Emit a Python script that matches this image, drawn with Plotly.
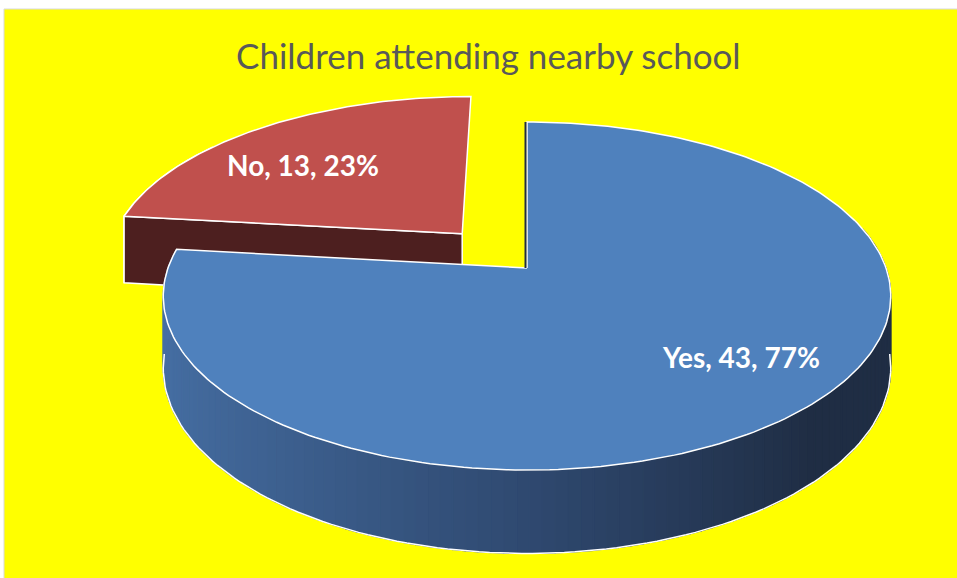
import numpy as np
import plotly.graph_objects as go

# ---- data ----
categories = ["Yes", "No"]
counts = [43, 13]
exploded = [0.0, 0.28]
top_colors = ["#4F81BD", "#C0504D"]
title_text = "Children attending nearby school"

# ---- style / geometry constants (pixel space) ----
W, H = 957, 578
CX, CY = 527.0, 268.0      # projected pie centre
A, B = 359.0, 169.5        # projected radii
K = 0.161                  # perspective factor
D = 70.0                   # extrusion depth
label_pos = {"Yes": (741, 357), "No": (303, 165)}

total = sum(counts)
pct = [c / total for c in counts]


def proj(u, v, z=0.0):
    w = 1.0 + K * v
    return CX + A * u / w, CY - B * v / w + z * D / w


def arc(a0, a1, off, n=120, z=0.0):
    t = np.radians(np.linspace(a0, a1, n))
    u = np.cos(t) + off[0]
    v = np.sin(t) + off[1]
    return proj(u, v, z)


def lerp(c0, c1, t):
    return "rgb(%d,%d,%d)" % tuple(int(round(c0[i] + (c1[i] - c0[i]) * t)) for i in range(3))


fig = go.Figure()

# slice angles: start at 12 o'clock, go clockwise (math angles decreasing)
slices = []
start = 90.0
for cat, p, ex, col in zip(categories, pct, exploded, top_colors):
    end = start - 360.0 * p
    mid = np.radians((start + end) / 2)
    off = (ex * np.cos(mid), ex * np.sin(mid))
    slices.append(dict(cat=cat, a0=start, a1=end, off=off, col=col))
    start = end


def add_poly(xs, ys, fill, line="white", lw=1.5):
    fig.add_trace(go.Scatter(x=[float(v) for v in xs], y=[float(v) for v in ys],
                             mode="lines", fill="toself",
                             fillcolor=fill, line=dict(color=line, width=lw),
                             hoverinfo="skip", showlegend=False))


# draw the exploded (No) slice first, then Yes
order = [1, 0]
for idx in order:
    s = slices[idx]
    off = s["off"]
    a0, a1 = s["a0"], s["a1"]
    if s["cat"] == "No":
        dark = "rgb(77,31,31)"
        # outer curved side (only the part near the left edge can show)
        tx, ty = arc(a0, a0 - 30, off)
        bx, by = arc(a0, a0 - 30, off, z=1.0)
        add_poly(np.r_[tx, bx[::-1], tx[:1]], np.r_[ty, by[::-1], ty[:1]], dark)
        # radial cut face at the slice's first edge (left side, faces viewer)
        cxp, cyp = proj(off[0], off[1])
        cxb, cyb = proj(off[0], off[1], 1.0)
        ex_, ey_ = arc(a0, a0, off, n=1)
        exb, eyb = arc(a0, a0, off, n=1, z=1.0)
        add_poly([cxp, ex_[0], exb[0], cxb, cxp], [cyp, ey_[0], eyb[0], cyb, cyp], dark)
        # top face
        tx, ty = arc(a0, a1, off)
        add_poly(np.r_[cxp, tx, cxp], np.r_[cyp, ty, cyp], s["col"])
    else:
        # outer side with gradient strips
        c_left, c_mid, c_right = (70, 111, 164), (47, 73, 112), (31, 45, 68)
        n = 160
        angs = np.linspace(a0, a1, n + 1)
        for i in range(n):
            am = np.radians((angs[i] + angs[i + 1]) / 2)
            if np.sin(am) > 0.25:
                continue
            tx, ty = arc(angs[i], angs[i + 1], off, n=4)
            bx, by = arc(angs[i], angs[i + 1], off, n=4, z=1.0)
            t = (1 + np.cos(am)) / 2  # 0 left, 1 right
            if t < 0.5:
                col = lerp(c_left, c_mid, t / 0.5)
            else:
                col = lerp(c_mid, c_right, min(1, (t - 0.5) / 0.35))
            fig.add_trace(go.Scatter(x=[float(v) for v in np.r_[tx, bx[::-1], tx[:1]]],
                                     y=[float(v) for v in np.r_[ty, by[::-1], ty[:1]]],
                                     mode="lines", fill="toself", fillcolor=col,
                                     line=dict(color=col, width=1.2),
                                     hoverinfo="skip", showlegend=False))
        # bottom outline
        bx, by = arc(-5, -175, off, z=1.0)
        fig.add_trace(go.Scatter(x=[float(v) for v in bx], y=[float(v) for v in by], mode="lines",
                                 line=dict(color="white", width=1.5),
                                 hoverinfo="skip", showlegend=False))
        # top face
        tx, ty = arc(a0, a1, off, n=240)
        cxp, cyp = proj(off[0], off[1])
        add_poly(np.r_[cxp, tx, cxp], np.r_[cyp, ty, cyp], s["col"])
        # thin edge of radial face at 12 o'clock
        ex_, ey_ = arc(a0, a0, off, n=1)
        fig.add_trace(go.Scatter(x=[float(cxp) - 1.5, float(ex_[0]) - 1.5],
                                 y=[float(cyp), float(ey_[0])], mode="lines",
                                 line=dict(color="rgb(31,45,68)", width=2),
                                 hoverinfo="skip", showlegend=False))

# labels
annotations = []
for cat, c, p in zip(categories, counts, pct):
    x, y = label_pos[cat]
    annotations.append(dict(x=x, y=y, xref="x", yref="y", showarrow=False,
                            text="<b>%s, %d, %d%%</b>" % (cat, c, round(p * 100)),
                            font=dict(family="Lato", size=28, color="white")))
annotations.append(dict(x=488, y=55, xref="x", yref="y", showarrow=False,
                        text=title_text,
                        font=dict(family="Lato", size=35, color="#595959")))

fig.update_layout(
    width=W, height=H, margin=dict(l=0, r=0, t=0, b=0),
    paper_bgcolor="white", plot_bgcolor="rgba(0,0,0,0)",
    xaxis=dict(range=[0, W], visible=False, fixedrange=True),
    yaxis=dict(range=[H, 0], visible=False, fixedrange=True),
    shapes=[dict(type="rect", xref="x", yref="y", x0=4, y0=9, x1=W + 2, y1=H + 2,
                 fillcolor="#FFFF00", line=dict(color="#D9D9D9", width=1), layer="below")],
    annotations=annotations,
    showlegend=False,
)

fig.write_html("out.html")
